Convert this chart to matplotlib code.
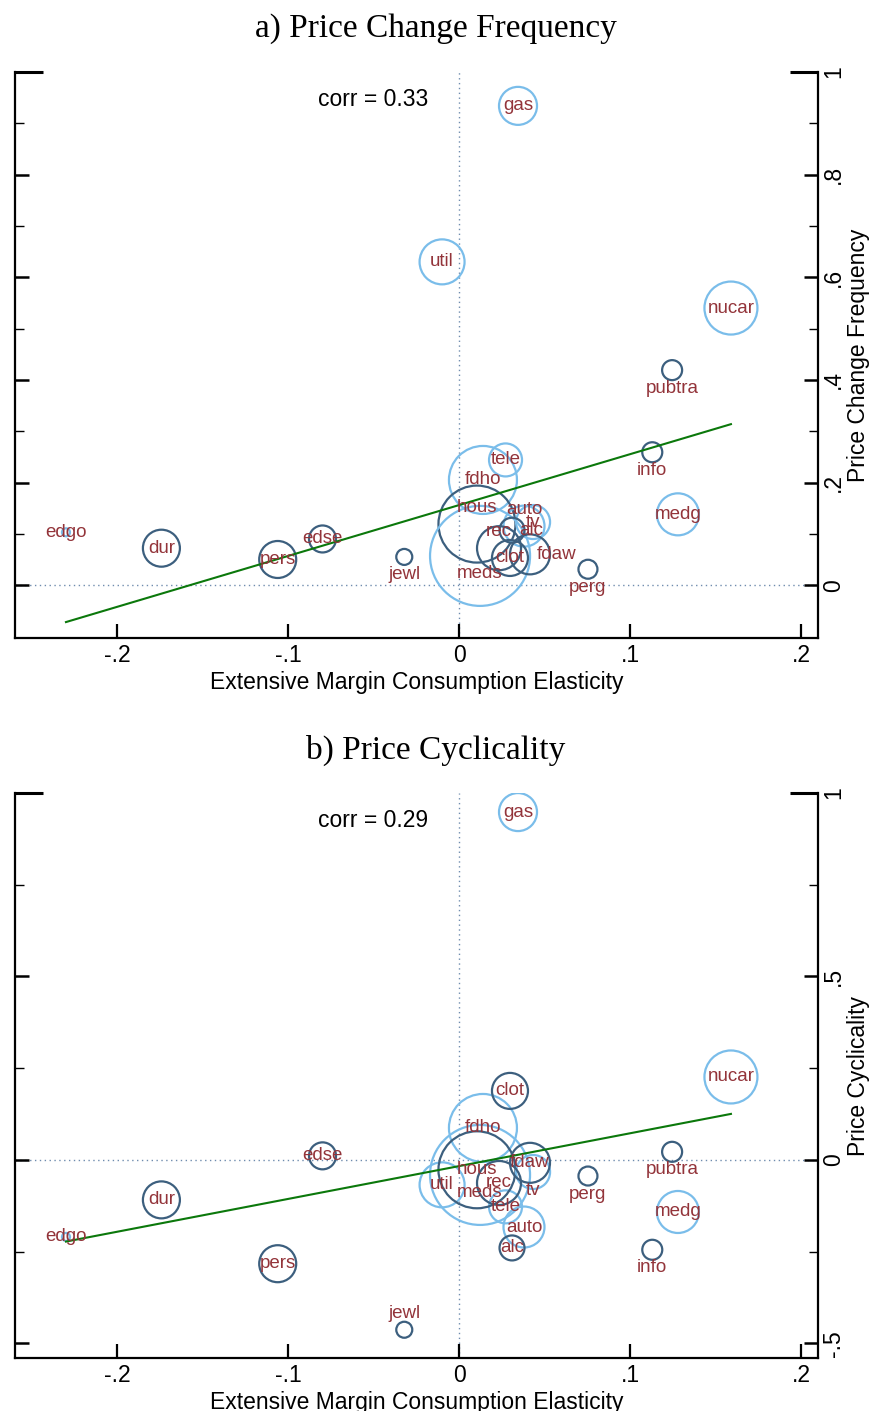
import matplotlib.pyplot as plt
import numpy as np

plt.rcParams['font.family'] = ['Liberation Sans', 'DejaVu Sans']

# category data
names = ['gas', 'util', 'nucar', 'pubtra', 'info', 'medg', 'perg', 'edgo',
         'dur', 'pers', 'edse', 'jewl', 'tele', 'fdho', 'hous', 'meds',
         'auto', 'tv', 'rec', 'alc', 'clot', 'fdaw']
elast = [0.0345, -0.0099, 0.159, 0.1246, 0.113, 0.128, 0.0754, -0.2298,
         -0.174, -0.106, -0.0798, -0.032, 0.0272, 0.014, 0.0105, 0.0123,
         0.038, 0.0433, 0.0234, 0.031, 0.0298, 0.0415]
freq = [0.934, 0.630, 0.540, 0.419, 0.259, 0.138, 0.031, 0.103,
        0.072, 0.050, 0.090, 0.055, 0.244, 0.205, 0.119, 0.057,
        0.115, 0.123, 0.072, 0.107, 0.053, 0.060]
cyc = [0.948, -0.068, 0.226, 0.022, -0.245, -0.142, -0.044, -0.21,
       -0.109, -0.283, 0.011, -0.463, -0.128, 0.087, -0.027, -0.041,
       -0.183, -0.033, -0.063, -0.240, 0.188, -0.008]
weight = [3.61, 5.06, 7.02, 1.00, 1.00, 4.41, 0.90, 0.16,
          3.42, 3.42, 1.82, 0.64, 2.72, 11.56, 14.82, 25.0,
          4.2, 2.89, 4.84, 1.56, 3.24, 4.0]
# 1 = goods (navy), 0 = services (light blue)
goods = [0, 0, 0, 1, 1, 0, 1, 0,
         1, 1, 1, 1, 0, 0, 1, 0,
         0, 0, 1, 1, 1, 1]

# label positions (clock convention, 0 = centred)
pos_a = [0, 0, 0, 6, 6, 0, 6, 0, 0, 0, 0, 6, 0, 0, 12, 6, 12, 0, 12, 3, 0, 3]
pos_b = [0, 0, 0, 6, 6, 0, 6, 0, 0, 0, 0, 12, 0, 0, 0, 6, 0, 6, 0, 0, 0, 0]

fit_a = (0.156, 0.992)   # intercept, slope
fit_b = (-0.017, 0.895)
corr_a = 0.33
corr_b = 0.29

xticks = [-0.2, -0.1, 0, 0.1, 0.2]
xticklabels = ['-.2', '-.1', '0', '.1', '.2']
yticks_a = [0, 0.2, 0.4, 0.6, 0.8, 1]
yticklabels_a = ['0', '.2', '.4', '.6', '.8', '1']
yticks_b = [-0.5, 0, 0.5, 1]
yticklabels_b = ['-.5', '0', '.5', '1']

NAVY = '#3c5f7e'
LTBLUE = '#7abdea'
RED = '#93343a'
GREEN = '#0b780b'
DOTS = '#6f8cae'

offsets = {0: ((0, 0), 'center'), 6: ((0, -13), 'center'),
           12: ((0, 12), 'center'), 3: ((5, 0), 'left')}


def panel(ax, y, pos, fit, corr, yt, ytl, ylim, ylabel):
    x = np.array(elast)
    y = np.array(y)
    cols = [NAVY if g else LTBLUE for g in goods]
    ax.axvline(0, color=DOTS, lw=1.0, ls=(0, (1, 2.5)), zorder=1)
    ax.axhline(0, color=DOTS, lw=1.0, ls=(0, (1, 2.5)), zorder=1)
    ax.scatter(x, y, s=207.36 * np.array(weight), facecolors='none',
               edgecolors=cols, linewidths=1.6, zorder=3)
    xs = np.array([x.min(), x.max()])
    ax.plot(xs, fit[0] + fit[1] * xs, color=GREEN, lw=1.5, zorder=4)
    for n, xi, yi, p in zip(names, x, y, pos):
        off, ha = offsets[p]
        ax.annotate(n, (xi, yi), xytext=off, textcoords='offset points',
                    ha=ha, va='center', color=RED, fontsize=13.5, zorder=5)
    ax.text(-0.05, ylim[1] - 0.049 * (ylim[1] - ylim[0]), 'corr = %.2f' % corr,
            ha='center', va='center', fontsize=16.5)

    ax.set_xlim(-0.2596, 0.2099)
    ax.set_ylim(*ylim)
    ax.set_xticks(xticks)
    ax.set_xticklabels(xticklabels)
    ax.set_yticks(yt)
    ax.set_yticklabels(ytl)
    minor = [(a + b) / 2 for a, b in zip(yt[:-1], yt[1:])]
    ax.set_yticks(minor, minor=True)
    ax.tick_params(axis='x', direction='in', length=10, width=1.6,
                   labelsize=16.5, pad=4)
    ax.tick_params(axis='y', which='major', direction='in', length=10,
                   width=1.8, left=True, right=True, labelleft=False,
                   labelright=True, labelsize=16.5, pad=3)
    ax.tick_params(axis='y', which='minor', direction='in', length=6.5,
                   width=1.0, left=True, right=True)
    for lab in ax.get_yticklabels():
        lab.set_rotation(90)
        lab.set_va('center')
        lab.set_ha('left')
    ax.yaxis.set_label_position('right')
    ax.set_ylabel(ylabel, fontsize=16.5, labelpad=1.5)
    ax.set_xlabel('Extensive Margin Consumption Elasticity', fontsize=16.5,
                  labelpad=3)
    ax.spines['top'].set_visible(False)
    for s in ['left', 'right', 'bottom']:
        ax.spines[s].set_linewidth(1.6)
    # long corner ticks at the top
    ax.plot([0, 0.035], [1, 1], transform=ax.transAxes, color='black',
            lw=2.2, clip_on=False, solid_capstyle='butt')
    ax.plot([0.965, 1], [1, 1], transform=ax.transAxes, color='black',
            lw=2.2, clip_on=False, solid_capstyle='butt')


fig = plt.figure(figsize=(8.71, 14.11), dpi=100)
ax_a = fig.add_axes([15 / 871, 1 - 638 / 1411, 803 / 871, 566 / 1411])
ax_b = fig.add_axes([15 / 871, 1 - 1358 / 1411, 803 / 871, 565 / 1411])

panel(ax_a, freq, pos_a, fit_a, corr_a, yticks_a, yticklabels_a,
      (-0.103, 1.0), 'Price Change Frequency')
panel(ax_b, cyc, pos_b, fit_b, corr_b, yticks_b, yticklabels_b,
      (-0.54, 1.0), 'Price Cyclicality')

fig.text(0.5, 1 - 29 / 1411, 'a) Price Change Frequency', ha='center',
         va='center', fontsize=24, family=['Liberation Serif', 'DejaVu Serif'])
fig.text(0.5, 1 - 750 / 1411, 'b) Price Cyclicality', ha='center',
         va='center', fontsize=24, family=['Liberation Serif', 'DejaVu Serif'])

fig.savefig('out.png', dpi=100)
